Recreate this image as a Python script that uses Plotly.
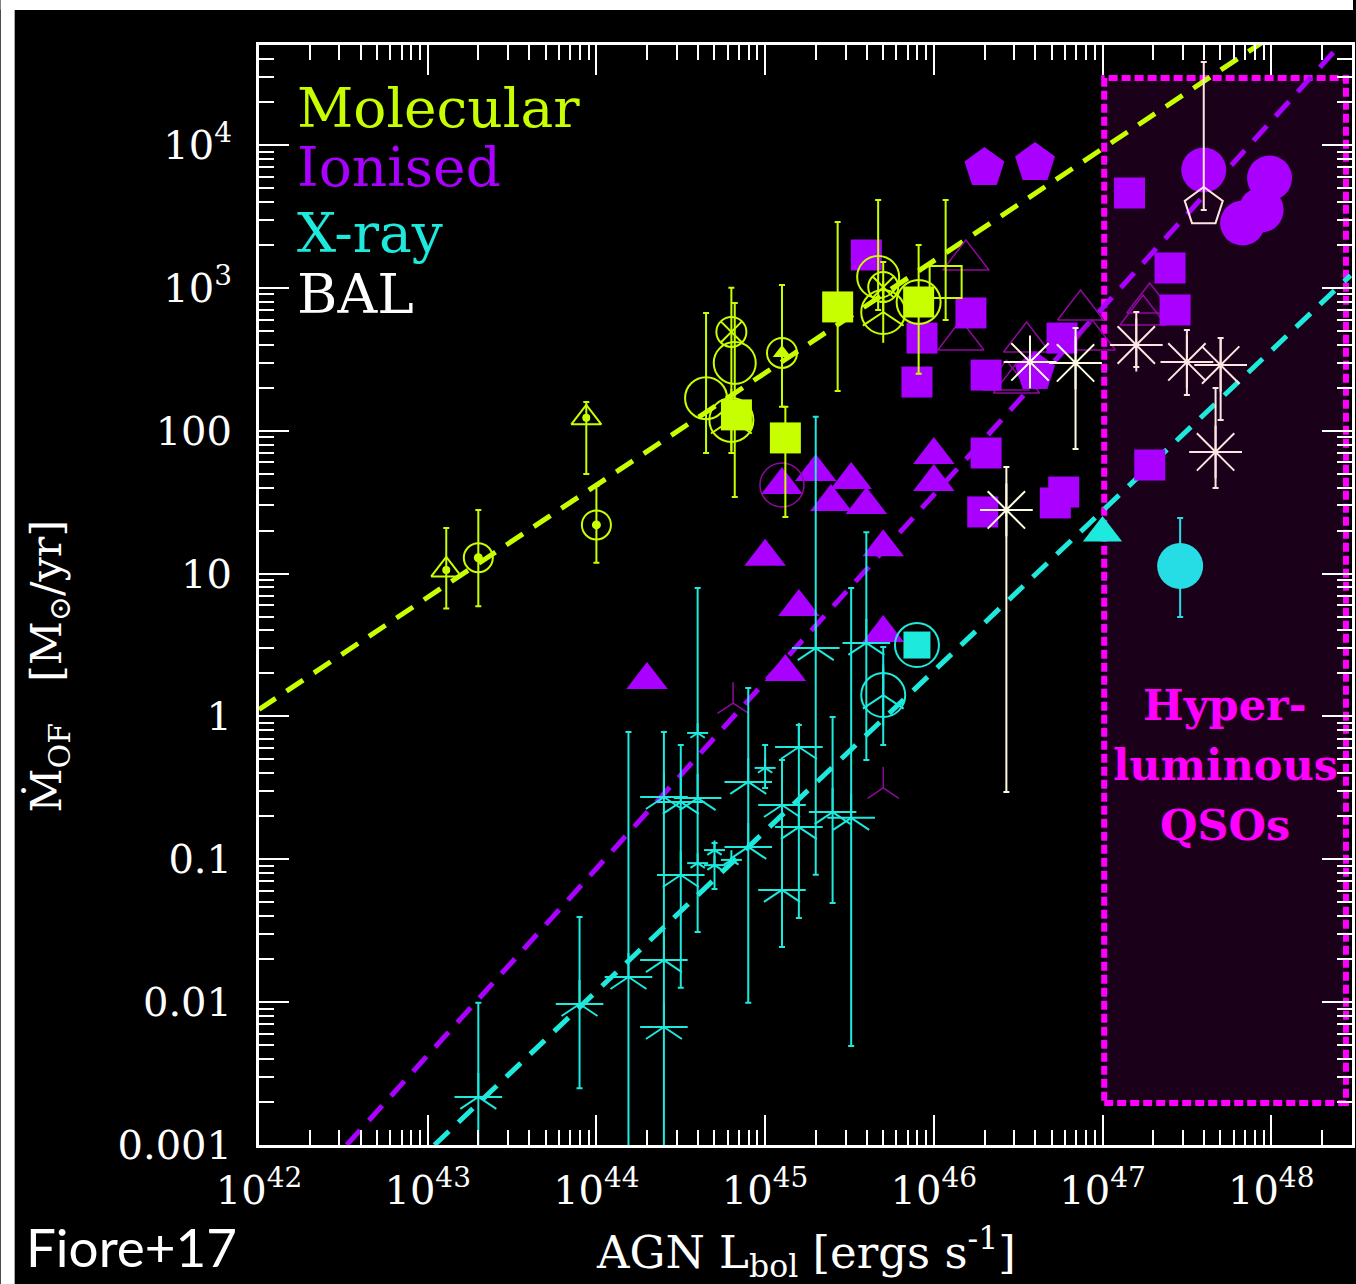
import numpy as np
import plotly.graph_objects as go

# ---------------- colours ----------------
MOL = "#c8ff00"
ION = "#aa00ff"
ION_D = "#8e0a9c"
XR = "#1de9dc"
XR_C = "#26dde6"
BAL_A = "#fffbe2"
BAL_B = "#ffe4e4"
MAG = "#ff00ff"

# ---------------- data (log10 L_bol [erg/s], Mdot [Msun/yr]) ----------------
# Molecular
mol_tri_logL = [43.11, 43.94]
mol_tri_M = [10.6, 123]
mol_tri_hi = [20.8, 159]
mol_tri_lo = [5.7, 49.8]

mol_cdot_logL = [43.30, 44.00]
mol_cdot_M = [12.9, 21.9]
mol_cdot_hi = [27.9, 41]
mol_cdot_lo = [5.9, 11.9]

mol_bigc_logL = [44.65, 44.82, 45.67]
mol_bigc_M = [169, 298, 1191]
mol_bigc_hi = [667, 783, 4120]
mol_bigc_lo = [69.8, 34.4, 700]

mol_bigc2_logL = [45.91]
mol_bigc2_M = [796]

mol_xc_logL = [44.80, 45.70]
mol_xc_M = [491, 1013]
mol_xc_hi = [1000, 1516]
mol_xc_lo = [69.8, 800]

mol_wheel_logL = [44.80, 45.70]
mol_wheel_M = [119, 677]

mol_ctri_logL = [45.10]
mol_ctri_M = [350]
mol_ctri_hi = [1047]
mol_ctri_lo = [147]

mol_sq_logL = [45.12, 45.43, 45.91]
mol_sq_M = [89, 735, 796]
mol_sq_hi = [147, 2890, 1995]
mol_sq_lo = [24.9, 190, 250]
mol_sq2_logL = [44.83]
mol_sq2_M = [129]

mol_osq_logL = [46.07]
mol_osq_M = [1099]
mol_osq_hi = [4120]
mol_osq_lo = [595]

# Ionised
ion_sq_logL = [45.60, 45.93, 45.90, 46.22, 46.31, 46.76, 46.31, 46.29, 46.72, 46.77,
               47.16, 47.40, 47.43, 47.28]
ion_sq_M = [1698, 445, 219, 667, 245, 445, 69.8, 27.0, 31.2, 37.2, 4610, 1377, 700, 57.5]
ion_pent_logL = [46.30, 46.60, 46.60]
ion_pent_M = [6900, 7480, 258]
ion_circ_logL = [47.60, 47.99, 47.83, 47.94]
ion_circ_M = [6680, 5870, 2843, 3508]
ion_tri_logL = [44.30, 45.00, 45.20, 45.12, 45.30, 45.39, 45.51, 45.60, 45.70, 45.70,
                46.00, 46.00, 45.10]
ion_tri_M = [1.80, 13.1, 5.83, 2.05, 51.4, 31.7, 45.2, 30.2, 15.3, 3.84, 67.6, 43.7, 41.7]
ion_otri_logL = [46.19, 46.16, 46.55, 46.87, 46.94, 46.43, 46.49, 47.28, 47.24]
ion_otri_M = [1566, 431, 418, 700, 431, 226, 216, 783, 646]
ion_tripod_logL = [44.81, 45.70]
ion_tripod_M = [1.24, 0.316]
ion_ocirc_logL = [45.10]
ion_ocirc_M = [41.7]

# X-ray
xr_star_logL = [43.30, 43.90, 44.19, 44.40, 44.50, 44.60, 44.90, 45.10, 45.20, 45.30,
                45.40, 45.51, 45.60]
xr_star_M = [0.00217, 0.0097, 0.015, 0.0197, 0.0776, 0.268, 0.122, 0.24, 0.611, 3.01,
             0.214, 0.195, 3.27]
xr_star_hi = [0.0099, 0.0394, 0.778, 0.778, 0.631, 7.92, 1.58, 0.495, 0.871, 125,
              0.99, 7.92, 19.5]
xr_star_lo = [1e-5, 0.0025, 1e-5, 1e-5, 0.0126, 0.031, 0.0099, 0.0243, 0.0388, 0.078,
              0.0494, 0.00493, 0.495]
xr_star2_logL = [44.40, 44.40, 44.50, 44.90, 45.10, 45.20]
xr_star2_M = [0.0067, 0.273, 0.252, 0.348, 0.061, 0.168]
xr_small_logL = [44.70, 45.00]
xr_small_M = [0.116, 0.436]
xr_small_hi = [0.130, 0.631]
xr_small_lo = [0.062, 0.316]
xr_small2_logL = [44.60, 44.60, 44.70, 44.80]
xr_small2_M = [0.766, 0.094, 0.091, 0.099]
xr_wheel_logL = [45.70]
xr_wheel_M = [1.41]
xr_wheel_hi = [3.06]
xr_wheel_lo = [0.63]
xr_sqc_logL = [45.90]
xr_sqc_M = [3.16]
xr_tri_logL = [47.00]
xr_tri_M = [19.2]
xr_circ_logL = [47.46]
xr_circ_M = [11.3]
xr_circ_hi = [24.5]
xr_circ_lo = [4.97]

# BAL
bal_a_logL = [46.43, 46.84]
bal_a_M = [27.9, 298]
bal_a_hi = [55.7, 523]
bal_a_lo = [0.296, 74.5]
bal_a2_logL = [46.57]
bal_a2_M = [303]
bal_b_logL = [47.20, 47.50, 47.70, 47.67]
bal_b_M = [398, 303, 288, 71]
bal_b_hi = [677, 507, 445, 199]
bal_b_lo = [279, 178, 119, 39.7]
bal_pent_logL = [47.60]
bal_pent_M = [3680]
bal_pent_hi = [38100]
bal_pent_lo = [3500]

# scaling relations (end points)
mol_line_logL = [42.0, 48.0]
mol_line_M = [1.12, 57500]
ion_line_logL = [42.52, 48.40]
ion_line_M = [0.001, 49000]
xr_line_logL = [43.04, 48.47]
xr_line_M = [0.001, 1222]

# hyper-luminous QSO region
box_logL = [47.01, 48.443]
box_M = [0.00197, 29400]

# axis ticks
x_tickvals_log = [42.0, 43.0, 44.0, 45.0, 46.0, 47.0, 48.0]
x_ticktext = ["10<sup>42</sup>", "10<sup>43</sup>", "10<sup>44</sup>", "10<sup>45</sup>",
              "10<sup>46</sup>", "10<sup>47</sup>", "10<sup>48</sup>"]
y_tickvals = [0.001, 0.01, 0.1, 1, 10, 100, 1000, 10000]
y_ticktext = ["0.001", "0.01", "0.1", "1", "10", "100", "10<sup>3</sup>", "10<sup>4</sup>"]
minor_mult = [2, 3, 4, 5, 6, 7, 8, 9]

# ---------------- figure ----------------
W, H = 1356, 1284
L_, R_, T_, B_ = 259, 1, 45, 139
PW = W - L_ - R_
PH = H - T_ - B_
XMAX = 42 + PW / 169.17
YMAX = -3 + PH / 142.86


def px(xp):
    return (xp - L_) / PW


def py(yp):
    return (H - B_ - yp) / PH


fig = go.Figure()


def X(v):
    return [10.0 ** a for a in v]


def err(M, hi, lo, color, thick=2, width=3):
    return dict(type="data", symmetric=False,
                array=[h - m for h, m in zip(hi, M)],
                arrayminus=[m - l for m, l in zip(M, lo)],
                color=color, thickness=thick, width=width)


def add(logL, M, symbol, size, color, lw=2, e=None, fill=None):
    mk = dict(symbol=symbol, size=size, color=fill if fill else color,
              line=dict(color=color, width=lw))
    fig.add_trace(go.Scatter(x=X(logL), y=M, mode="markers", marker=mk,
                             error_y=e if e else dict(visible=False),
                             showlegend=False, hoverinfo="skip", cliponaxis=True))


# region box
fig.add_trace(go.Scatter(
    x=X([box_logL[0], box_logL[1], box_logL[1], box_logL[0], box_logL[0]]),
    y=[box_M[0], box_M[0], box_M[1], box_M[1], box_M[0]],
    mode="lines", fill="toself", fillcolor="#1b0019",
    line=dict(color=MAG, width=6, dash="9px,4px"),
    showlegend=False, hoverinfo="skip"))

# relations
for lg, mm, c in [(mol_line_logL, mol_line_M, MOL), (ion_line_logL, ion_line_M, ION),
                  (xr_line_logL, xr_line_M, XR)]:
    fig.add_trace(go.Scatter(x=X(lg), y=mm, mode="lines",
                             line=dict(color=c, width=5, dash="20px,13px"),
                             showlegend=False, hoverinfo="skip"))

# ----- ionised -----
add(ion_otri_logL, ion_otri_M, "triangle-up-open", 40, ION_D, lw=1.5)
add(ion_sq_logL, ion_sq_M, "square", 31, ION, lw=0)
add(ion_pent_logL, ion_pent_M, "pentagon", 42, ION, lw=0)
add(ion_circ_logL, ion_circ_M, "circle", 45, ION, lw=0)
add(ion_tri_logL, ion_tri_M, "triangle-up", 36, ION, lw=0)
add(ion_ocirc_logL, ion_ocirc_M, "circle-open", 44, ION_D, lw=1.5)
add(ion_tripod_logL, ion_tripod_M, "y-up-open", 26, ION_D, lw=1.5)

# ----- X-ray -----
add(xr_star_logL, xr_star_M, "y-up-open", 30, XR, e=err(xr_star_M, xr_star_hi, xr_star_lo, XR))
add(xr_star_logL, xr_star_M, "line-ew-open", 34, XR)
add(xr_star2_logL, xr_star2_M, "y-up-open", 30, XR)
add(xr_star2_logL, xr_star2_M, "line-ew-open", 34, XR)
add(xr_small_logL, xr_small_M, "y-up-open", 12, XR, e=err(xr_small_M, xr_small_hi, xr_small_lo, XR))
add(xr_small_logL, xr_small_M, "line-ew-open", 15, XR)
add(xr_small2_logL, xr_small2_M, "y-up-open", 12, XR)
add(xr_small2_logL, xr_small2_M, "line-ew-open", 15, XR)
add(xr_wheel_logL, xr_wheel_M, "circle-open", 44, XR, e=err(xr_wheel_M, xr_wheel_hi, xr_wheel_lo, XR))
add(xr_wheel_logL, xr_wheel_M, "y-up-open", 34, XR)
add(xr_wheel_logL, xr_wheel_M, "line-ns-open", 44, XR)
add(xr_sqc_logL, xr_sqc_M, "square", 27, XR, lw=0)
add(xr_sqc_logL, xr_sqc_M, "circle-open", 44, XR)
add(xr_tri_logL, xr_tri_M, "triangle-up", 34, XR, lw=0)
add(xr_circ_logL, xr_circ_M, "circle", 46, XR_C, lw=0,
    e=err(xr_circ_M, xr_circ_hi, xr_circ_lo, XR_C))

# ----- molecular -----
add(mol_tri_logL, mol_tri_M, "triangle-up-open", 26, MOL, e=err(mol_tri_M, mol_tri_hi, mol_tri_lo, MOL))
add(mol_tri_logL, mol_tri_M, "circle", 8, MOL, lw=0)
add(mol_cdot_logL, mol_cdot_M, "circle-open", 29, MOL, e=err(mol_cdot_M, mol_cdot_hi, mol_cdot_lo, MOL))
add(mol_cdot_logL, mol_cdot_M, "circle", 9, MOL, lw=0)
add(mol_bigc_logL, mol_bigc_M, "circle-open", 42, MOL, e=err(mol_bigc_M, mol_bigc_hi, mol_bigc_lo, MOL))
add(mol_bigc2_logL, mol_bigc2_M, "circle-open", 44, MOL)
add(mol_xc_logL, mol_xc_M, "circle-x-open", 30, MOL, e=err(mol_xc_M, mol_xc_hi, mol_xc_lo, MOL))
add(mol_wheel_logL, mol_wheel_M, "circle-open", 44, MOL)
add(mol_wheel_logL, mol_wheel_M, "y-up-open", 34, MOL)
add(mol_wheel_logL, mol_wheel_M, "line-ns-open", 44, MOL)
add(mol_ctri_logL, mol_ctri_M, "circle-open", 30, MOL, e=err(mol_ctri_M, mol_ctri_hi, mol_ctri_lo, MOL))
add(mol_ctri_logL, mol_ctri_M, "triangle-up", 16, MOL, lw=0)
add(mol_sq_logL, mol_sq_M, "square", 31, MOL, lw=0, e=err(mol_sq_M, mol_sq_hi, mol_sq_lo, MOL))
add(mol_sq2_logL, mol_sq2_M, "square", 31, MOL, lw=0)
add(mol_osq_logL, mol_osq_M, "square-open", 32, MOL, e=err(mol_osq_M, mol_osq_hi, mol_osq_lo, MOL))

# ----- BAL -----
add(bal_a_logL, bal_a_M, "asterisk-open", 44, BAL_A, e=err(bal_a_M, bal_a_hi, bal_a_lo, BAL_A))
add(bal_a2_logL, bal_a2_M, "asterisk-open", 44, BAL_A)
add(bal_b_logL, bal_b_M, "asterisk-open", 44, BAL_B, e=err(bal_b_M, bal_b_hi, bal_b_lo, BAL_B))
add(bal_pent_logL, bal_pent_M, "pentagon-open", 40, BAL_B,
    e=err(bal_pent_M, bal_pent_hi, bal_pent_lo, BAL_B))

x_minor = [m * 10.0 ** d for d in range(42, 49) for m in minor_mult
           if np.log10(m * 10.0 ** d) < XMAX]
y_minor = [m * 10.0 ** d for d in range(-3, 5) for m in minor_mult
           if np.log10(m * 10.0 ** d) < YMAX]

TICKFONT = dict(family="DejaVu Serif", size=40, color="white")
axis_common = dict(showline=True, linecolor="white", linewidth=3, mirror="allticks",
                   ticks="inside", ticklen=30, tickwidth=2, tickcolor="white",
                   showgrid=False, zeroline=False, tickfont=TICKFONT)

fig.update_xaxes(type="log", range=[42, XMAX],
                 tickvals=X(x_tickvals_log), ticktext=x_ticktext,
                 ticklabelstandoff=8,
                 minor=dict(tickmode="array", tickvals=x_minor, ticks="inside",
                            ticklen=15, tickwidth=2, tickcolor="white", showgrid=False),
                 **axis_common)
fig.update_yaxes(type="log", range=[-3, YMAX],
                 tickvals=y_tickvals, ticktext=y_ticktext,
                 ticklabelstandoff=16,
                 minor=dict(tickmode="array", tickvals=y_minor, ticks="inside",
                            ticklen=15, tickwidth=2, tickcolor="white", showgrid=False),
                 **axis_common)

ann = []
for txt, yc, col in [("Molecular", 108, MOL), ("Ionised", 167, ION),
                     ("X-ray", 233, XR), ("BAL", 294, "white")]:
    ann.append(dict(text=txt, x=px(295), y=py(yc), xref="paper", yref="paper",
                    xanchor="left", yanchor="middle", showarrow=False,
                    font=dict(family="DejaVu Serif", size=55, color=col)))
for txt, yc in [("Hyper-", 705), ("luminous", 765), ("QSOs", 825)]:
    ann.append(dict(text="<b>%s</b>" % txt, x=px(1228), y=py(yc),
                    xref="paper", yref="paper", xanchor="center", yanchor="middle",
                    showarrow=False,
                    font=dict(family="DejaVu Serif", size=43, color=MAG)))
ann.append(dict(text="AGN L<sub>bol</sub> [ergs s<sup>-1</sup>]", x=px(808), y=py(1252),
                xref="paper", yref="paper", xanchor="center", yanchor="middle",
                showarrow=False, font=dict(family="DejaVu Serif", size=45, color="white")))
ann.append(dict(text="Ṁ<sub>OF</sub>   [M<sub>⊙</sub>/yr]", x=px(48), y=py(666),
                xref="paper", yref="paper", xanchor="center", yanchor="middle",
                textangle=-90, showarrow=False,
                font=dict(family="DejaVu Serif", size=43, color="white")))
ann.append(dict(text="Fiore+17", x=px(23), y=py(1246), xref="paper", yref="paper",
                xanchor="left", yanchor="middle", showarrow=False,
                font=dict(family="Lato", size=53, color="white")))

shapes = [
    dict(type="rect", xref="paper", yref="paper", x0=px(0), x1=px(14), y0=py(H), y1=py(0),
         fillcolor="white", line=dict(width=0), layer="above"),
    dict(type="rect", xref="paper", yref="paper", x0=px(0), x1=px(W), y0=py(10), y1=py(0),
         fillcolor="white", line=dict(width=0), layer="above"),
]

fig.update_layout(width=W, height=H, margin=dict(l=L_, r=R_, t=T_, b=B_, pad=0),
                  paper_bgcolor="black", plot_bgcolor="black",
                  annotations=ann, shapes=shapes, showlegend=False)

fig.write_html("out.html")
